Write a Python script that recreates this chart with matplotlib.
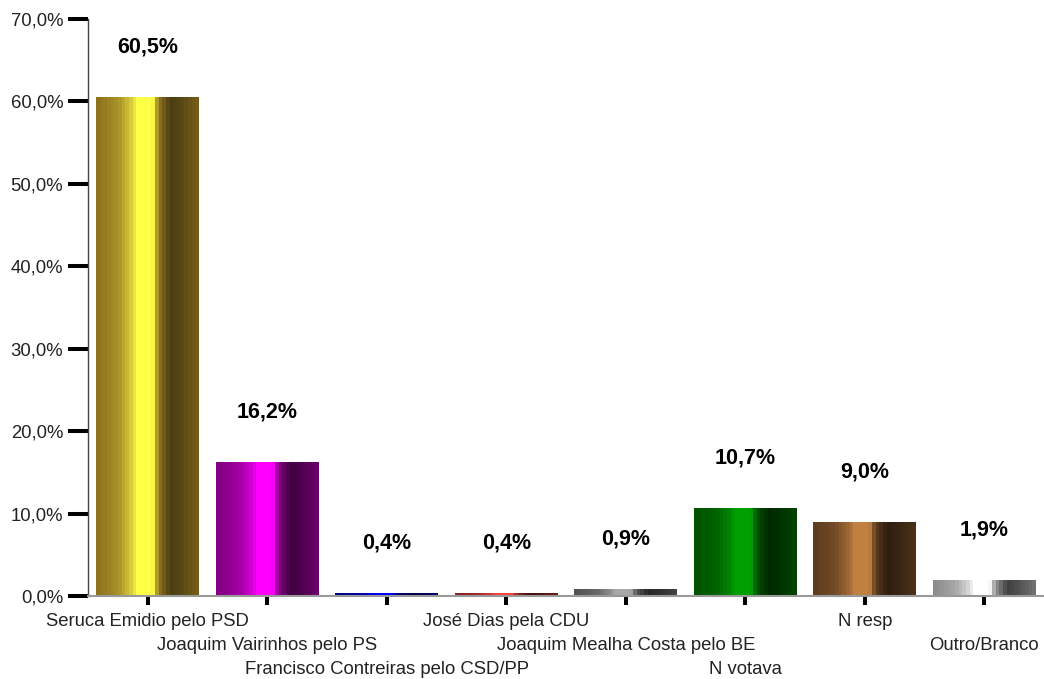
import numpy as np
import matplotlib
matplotlib.use("Agg")
import matplotlib.pyplot as plt
from matplotlib.colors import to_rgb

categories = ["Seruca Emidio pelo PSD", "Joaquim Vairinhos pelo PS",
              "Francisco Contreiras pelo CSD/PP", "José Dias pela CDU",
              "Joaquim Mealha Costa pelo BE", "N votava", "N resp", "Outro/Branco"]
values = [60.5, 16.2, 0.4, 0.4, 0.9, 10.7, 9.0, 1.9]
value_labels = ["60,5%", "16,2%", "0,4%", "0,4%", "0,9%", "10,7%", "9,0%", "1,9%"]
yticks = [0, 10, 20, 30, 40, 50, 60, 70]
ytick_labels = ["0,0%", "10,0%", "20,0%", "30,0%", "40,0%", "50,0%", "60,0%", "70,0%"]

# (base, highlight, dark) colours per bar
bar_colors = [
    ("#8c6e1e", "#ffff48", "#4a3c12"),
    ("#800080", "#ff00ff", "#400040"),
    ("#000080", "#0000ff", "#000040"),
    ("#802020", "#ff4040", "#401010"),
    ("#505050", "#a8a8a8", "#262626"),
    ("#005000", "#00a000", "#002800"),
    ("#5a3a1e", "#c08040", "#2e1e10"),
    ("#8a8a8a", "#ffffff", "#404040"),
]

plt.rcParams['font.family'] = ['Liberation Sans', 'DejaVu Sans']

fig = plt.figure(figsize=(10.44, 6.79), dpi=100)
ax = fig.add_axes([88/1044, 1-596/679, 1-88/1044, (596-19)/679])

x = np.arange(len(categories))
bars = ax.bar(x, values, width=0.86, color="none", edgecolor="none", zorder=2)

# shading profile: -1 dark, 0 base, 1 highlight
stops_p = [0.0, 0.22, 0.33, 0.41, 0.55, 0.59, 0.64, 0.72, 0.82, 1.0]
stops_t = [0.0, 0.25, 0.6, 1.0, 1.0, 0.3, -0.2, -1.0, -0.8, -0.3]
nstripes = 28
pos = (np.arange(nstripes) + 0.5) / nstripes
tvals = np.interp(pos, stops_p, stops_t)

def stripe_image(base, hi, dark):
    b, h, d = np.array(to_rgb(base)), np.array(to_rgb(hi)), np.array(to_rgb(dark))
    cols = []
    for t in tvals:
        if t >= 0:
            cols.append(b + (h - b) * t)
        else:
            cols.append(b + (d - b) * (-t))
    return np.array(cols)[None, :, :]

for bar, (base, hi, dark) in zip(bars, bar_colors):
    x0 = bar.get_x()
    w = bar.get_width()
    hgt = bar.get_height()
    img = stripe_image(base, hi, dark)
    im = ax.imshow(img, extent=[x0, x0 + w, 0, hgt], aspect='auto',
                   interpolation='nearest', zorder=2)
    im.set_clip_path(bar)

for xi, v, lab in zip(x, values, value_labels):
    ax.annotate(lab, xy=(xi, v), xytext=(0, 36), textcoords='offset points',
                ha='center', va='center', fontsize=15.5, fontweight='bold')

ax.set_xlim(-0.5, len(categories) - 0.5)
ax.set_ylim(0, 70)
ax.set_yticks(yticks)
ax.set_yticklabels(ytick_labels, fontsize=13.3, color="#222222")
ax.tick_params(axis='y', length=14.4, width=2.9, color='black', pad=3.5)
ax.set_xticks(x)
ax.set_xticklabels([""] * len(categories))
ax.tick_params(axis='x', length=6.5, width=2.9, color='black')

for i, lab in enumerate(categories):
    row = i % 3
    ax.annotate(lab, xy=(i, 0), xycoords=('data', 'axes fraction'),
                xytext=(0, -(26 + 23.5 * row) * 0.72), textcoords='offset points',
                ha='center', va='center', fontsize=13.3, color="#222222",
                annotation_clip=False)

ax.spines['top'].set_visible(False)
ax.spines['right'].set_visible(False)
ax.spines['left'].set_color('#444444')
ax.spines['left'].set_linewidth(1.0)
ax.spines['bottom'].set_color('#999999')
ax.spines['bottom'].set_linewidth(1.5)

fig.savefig("out.png", dpi=100)
